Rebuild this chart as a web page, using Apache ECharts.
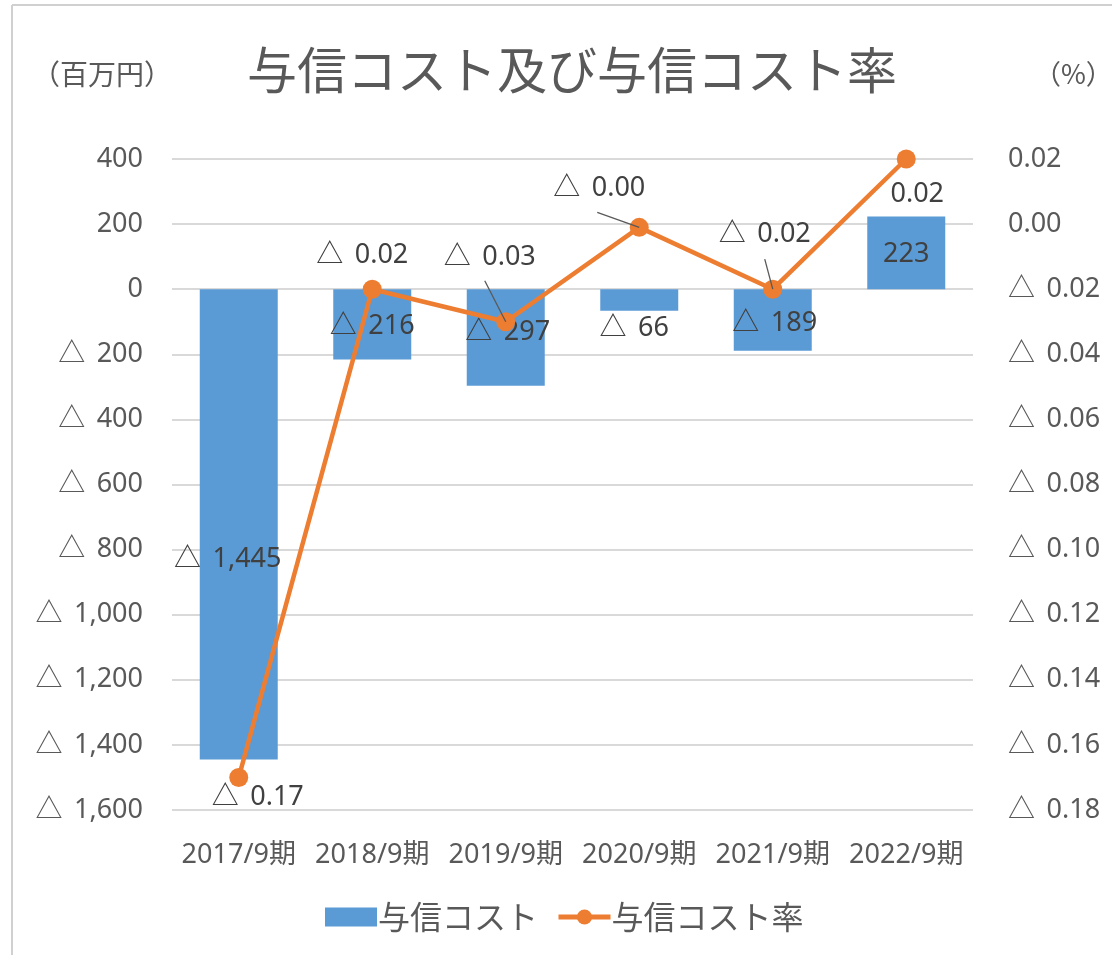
<!DOCTYPE html>
<html>
<head>
<meta charset="utf-8">
<script src="https://cdn.jsdelivr.net/npm/echarts@6/dist/echarts.min.js"></script>
<style>
  html, body { margin: 0; padding: 0; background: #fff; }
  #chart { width: 1112px; height: 955px; }
</style>
</head>
<body>
<div id="chart"></div>
<script>
// 与信コスト (百万円) and 与信コスト率 (%), fiscal years ending September
const categories = ['2017/9期', '2018/9期', '2019/9期', '2020/9期', '2021/9期', '2022/9期']
const creditCost = [-1445, -216, -297, -66, -189, 223]
const creditCostRate = [-0.17, -0.02, -0.03, -0.001, -0.02, 0.02]

const FONT = "'Noto Sans', 'Noto Sans CJK JP', sans-serif"
const CJK_FONT = "'Noto Sans CJK JP', sans-serif"
const AXIS_GRAY = '#595959'
const LABEL_GRAY = '#404040'

// Excel style: negatives written with a triangle
const NEG = '△ \u2009'
const fmtCost = (v) => (v < 0 ? NEG : '') + Math.abs(v).toLocaleString('en-US')
const fmtRate = (v) => (v < 0 ? NEG : '') + Math.abs(v).toFixed(2)

// label placement tweaks, per category (the original has hand-moved labels)
const barLabelTweaks = [
  { position: 'inside', offset: [-11, 35] },
  { position: 'inside', offset: [0, 2] },
  { position: 'inside', offset: [2, -5] },
  { position: 'bottom', offset: [-5, 0] },
  { position: 'inside', offset: [2, 3] },
  { position: 'inside', offset: [0, 1] },
]
const rateLabelTweaks = [
  { position: 'bottom', offset: [19, -8], guide: null },
  { position: 'top', offset: [-10, -6], guide: null },
  { position: 'top', offset: [-16, -36], guide: [-21, -41] },
  { position: 'top', offset: [-40, -11], guide: [-42, -15] },
  { position: 'top', offset: [-8, -27], guide: [-8, -30] },
  { position: 'bottom', offset: [11, 7], guide: null },
]

const chart = echarts.init(document.getElementById('chart'), null, { renderer: 'canvas' })

const baseGraphic = [
  { type: 'line', shape: { x1: 12, y1: 5, x2: 1112, y2: 5 }, style: { stroke: '#d0d0d0', lineWidth: 2 } },
  { type: 'line', shape: { x1: 12, y1: 5, x2: 12, y2: 955 }, style: { stroke: '#d0d0d0', lineWidth: 2 } },
  {
    type: 'text', left: 32, top: 60,
    style: { text: '（百万円）', font: '28px ' + CJK_FONT, fill: AXIS_GRAY },
  },
  {
    type: 'text', left: 1034, top: 60,
    style: { text: '（%）', font: '27px ' + CJK_FONT, fill: AXIS_GRAY },
  },
]

chart.setOption({
  backgroundColor: '#ffffff',
  animation: false,
  textStyle: { fontFamily: FONT },
  title: {
    text: '与信コスト及び与信コスト率',
    left: 567,
    top: 40,
    textAlign: 'center',
    textStyle: { fontFamily: CJK_FONT, fontSize: 50, fontWeight: 'normal', color: AXIS_GRAY },
  },
  graphic: baseGraphic,
  legend: {
    left: 320,
    top: 896,
    itemWidth: 52,
    itemHeight: 19,
    itemGap: 18,
    lineStyle: { width: 5 },
    textStyle: { fontFamily: CJK_FONT, fontSize: 32, color: AXIS_GRAY, padding: [0, 0, 0, -4] },
    data: [
      { name: '与信コスト', icon: 'rect' },
      { name: '与信コスト率' },
    ],
  },
  grid: { left: 172, right: 139, top: 159, bottom: 145, containLabel: false },
  xAxis: {
    type: 'category',
    data: categories,
    axisLine: { show: false },
    axisTick: { show: false },
    axisLabel: { color: AXIS_GRAY, fontFamily: FONT, fontSize: 27, margin: 32, interval: 0 },
  },
  yAxis: [
    {
      type: 'value',
      min: -1600,
      max: 400,
      interval: 200,
      axisLine: { show: false },
      axisTick: { show: false },
      axisLabel: { color: AXIS_GRAY, fontFamily: FONT, fontSize: 27, margin: 29, formatter: fmtCost },
      splitLine: { lineStyle: { color: '#d9d9d9', width: 2 } },
    },
    {
      type: 'value',
      min: -0.18,
      max: 0.02,
      interval: 0.02,
      axisLine: { show: false },
      axisTick: { show: false },
      axisLabel: { color: AXIS_GRAY, fontFamily: FONT, fontSize: 27, margin: 35, formatter: fmtRate },
      splitLine: { show: false },
    },
  ],
  series: [
    {
      name: '与信コスト',
      type: 'bar',
      barWidth: 78,
      itemStyle: { color: '#5b9bd5' },
      data: creditCost.map((v, i) => ({
        value: v,
        label: {
          show: true,
          position: barLabelTweaks[i].position,
          offset: barLabelTweaks[i].offset,
          distance: 4,
          formatter: (p) => fmtCost(p.value),
          color: LABEL_GRAY,
          fontFamily: FONT,
          fontSize: 27,
        },
      })),
    },
    {
      name: '与信コスト率',
      type: 'line',
      yAxisIndex: 1,
      symbol: 'circle',
      symbolSize: 19,
      lineStyle: { color: '#ed7d31', width: 4.5 },
      itemStyle: { color: '#ed7d31' },
      z: 5,
      data: creditCostRate.map((v, i) => ({
        value: v,
        label: {
          show: true,
          position: rateLabelTweaks[i].position,
          offset: rateLabelTweaks[i].offset,
          distance: 5,
          formatter: (p) => fmtRate(p.value),
          color: LABEL_GRAY,
          fontFamily: FONT,
          fontSize: 27,
        },
      })),
    },
  ],
})

// leader lines for the moved labels, anchored on the points through the chart's own scales
const guides = []
creditCostRate.forEach((v, i) => {
  const g = rateLabelTweaks[i].guide
  if (!g) return
  const [px, py] = chart.convertToPixel({ seriesIndex: 1 }, [i, v])
  guides.push({
    type: 'line',
    z: 10,
    shape: { x1: px + g[0], y1: py + g[1], x2: px, y2: py },
    style: { stroke: '#595959', lineWidth: 1.3 },
  })
})
chart.setOption({ graphic: baseGraphic.concat(guides) })
</script>
</body>
</html>
